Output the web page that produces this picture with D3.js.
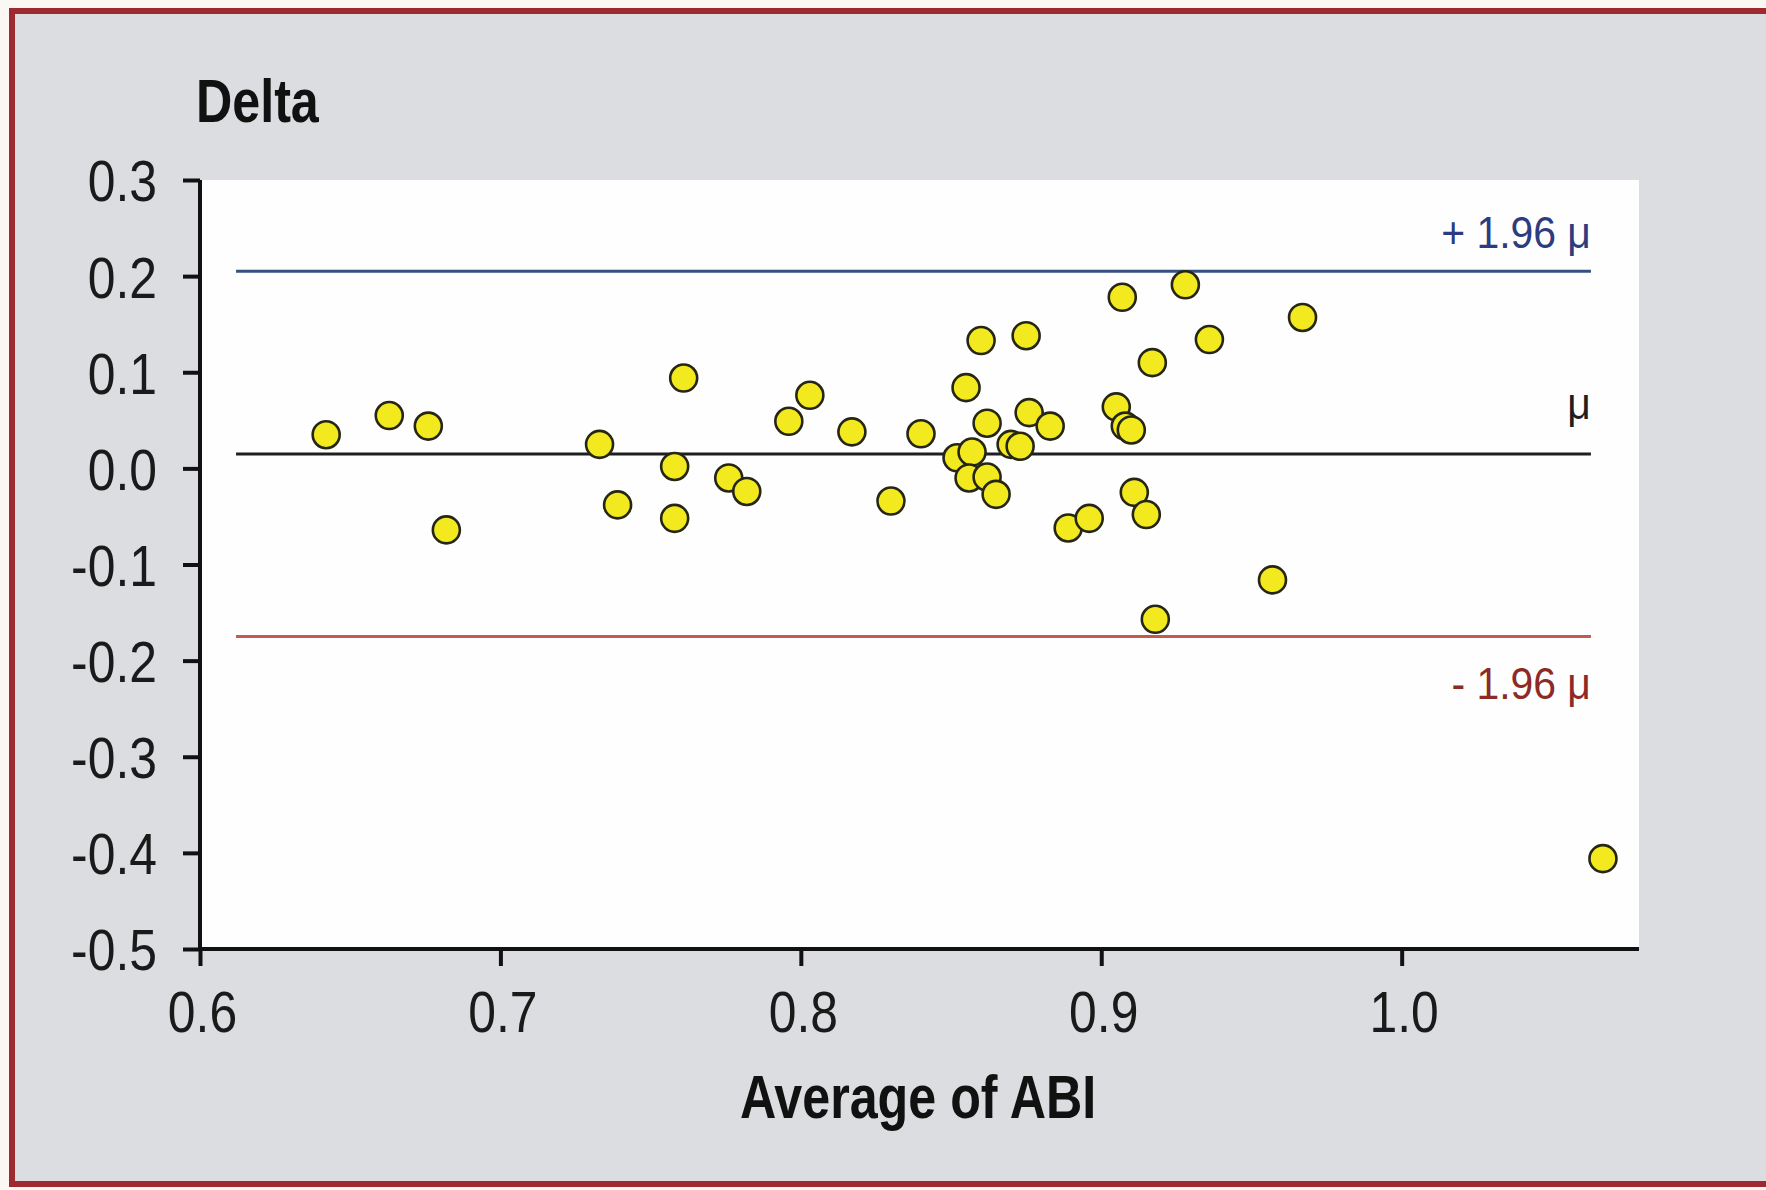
<!DOCTYPE html>
<html>
<head>
<meta charset="utf-8">
<script src="https://cdn.jsdelivr.net/npm/d3@7"></script>
<style>
  html, body { margin: 0; padding: 0; background: #fbf7f3; overflow: hidden; }
  svg { display: block; }
  text { font-family: "Liberation Sans", Arial, Helvetica, sans-serif; }
</style>
</head>
<body>
<svg id="chart" width="1766" height="1190"></svg>
<script>
// ---- Data ----
const abiAverage = [0.642, 0.663, 0.676, 0.682, 0.733, 0.739, 0.761, 0.758, 0.758, 0.776,
                    0.782, 0.796, 0.803, 0.817, 0.830, 0.840, 0.855, 0.860, 0.875, 0.907,
                    0.928, 0.936, 0.917, 0.967, 0.905, 0.908, 0.910, 0.862, 0.876, 0.883,
                    0.870, 0.873, 0.852, 0.857, 0.856, 0.862, 0.865, 0.889, 0.896, 0.911,
                    0.915, 0.957, 0.918, 1.067];
const abiDelta   = [0.035, 0.055, 0.044, -0.064, 0.025, -0.038, 0.094, 0.002, -0.052, -0.010,
                    -0.024, 0.049, 0.076, 0.038, -0.034, 0.036, 0.084, 0.133, 0.138, 0.178,
                    0.191, 0.134, 0.110, 0.157, 0.064, 0.044, 0.040, 0.047, 0.058, 0.044,
                    0.025, 0.023, 0.011, 0.017, -0.010, -0.009, -0.027, -0.062, -0.052, -0.025,
                    -0.048, -0.116, -0.157, -0.406];
const refLineNames  = ["upper", "mean", "lower"];
const refLineValues = [0.205, 0.015, -0.175];
const refLineLabels = ["+ 1.96 \u03bc", "\u03bc", "- 1.96 \u03bc"];
const refLineSpan   = [0.612, 1.063];
const xTicks = [0.6, 0.7, 0.8, 0.9, 1.0];
const yTicks = [0.3, 0.2, 0.1, 0.0, -0.1, -0.2, -0.3, -0.4, -0.5];
const xTitle = "Average of ABI";
const yTitle = "Delta";

// ---- Layout ----
const svg = d3.select("#chart");
const W = 1766, H = 1190;
const plot = { left: 200, right: 1639, top: 180, bottom: 949 };
const x = d3.scaleLinear().domain([0.6, 1.079]).range([plot.left, plot.right]);
const y = d3.scaleLinear().domain([-0.5, 0.3]).range([plot.bottom, plot.top]);

const lineColors  = { upper: "#34507f", mean: "#1f1f1f", lower: "#c25a50" };
const labelColors = { upper: "#2c3c7e", mean: "#1f1f1f", lower: "#8e2a26" };
const condensed = 0.81;
const tickCondensed = 0.86;
const fmt = d => d3.format(".1f")(d).replace("\u2212", "-");

// frame (left, top, bottom red rules; the right side runs off the page)
svg.append("rect").attr("x", 0).attr("y", 0).attr("width", W).attr("height", H).attr("fill", "#fbf7f3");
svg.append("rect").attr("x", 12).attr("y", 11).attr("width", W - 12).attr("height", 1173)
  .attr("fill", "#dcdde0");
const frameColor = "#9e2a30";
svg.append("line").attr("x1", 12).attr("x2", 12).attr("y1", 8).attr("y2", 1187)
  .attr("stroke", frameColor).attr("stroke-width", 6);
svg.append("line").attr("x1", 9).attr("x2", W).attr("y1", 11).attr("y2", 11)
  .attr("stroke", frameColor).attr("stroke-width", 6);
svg.append("line").attr("x1", 9).attr("x2", W).attr("y1", 1184).attr("y2", 1184)
  .attr("stroke", frameColor).attr("stroke-width", 6);

// white plotting area
svg.append("rect").attr("x", plot.left).attr("y", plot.top)
  .attr("width", plot.right - plot.left).attr("height", plot.bottom - plot.top)
  .attr("fill", "#fefefe");

// reference lines
const refs = refLineNames.map((n, i) => ({ name: n, value: refLineValues[i], label: refLineLabels[i] }));
svg.append("g").selectAll("line").data(refs).join("line")
  .attr("x1", x(refLineSpan[0])).attr("x2", x(refLineSpan[1]))
  .attr("y1", d => y(d.value)).attr("y2", d => y(d.value))
  .attr("stroke", d => lineColors[d.name]).attr("stroke-width", 3);

const labelOffset = { upper: -23, mean: -35, lower: 62 };
svg.append("g").selectAll("text").data(refs).join("text")
  .attr("transform", d => `translate(${x(refLineSpan[1])},${y(d.value) + labelOffset[d.name]}) scale(0.93,1)`)
  .attr("text-anchor", "end")
  .attr("font-size", 44)
  .attr("fill", d => labelColors[d.name])
  .text(d => d.label);

// axes
const yAxis = d3.axisLeft(y).tickValues(yTicks).tickSize(17).tickSizeOuter(0).tickFormat(fmt);
const xAxis = d3.axisBottom(x).tickValues(xTicks).tickSize(17).tickSizeOuter(0).tickFormat(fmt);

const gy = svg.append("g").attr("transform", `translate(${plot.left},0)`).call(yAxis);
const gx = svg.append("g").attr("transform", `translate(0,${plot.bottom})`).call(xAxis);

[gx, gy].forEach(g => {
  g.select(".domain").attr("stroke", "#111").attr("stroke-width", 4);
  g.selectAll(".tick line").attr("stroke", "#111").attr("stroke-width", 4);
  g.selectAll(".tick text").attr("font-size", 58).attr("fill", "#1a1a1a")
    .attr("font-family", "\"Liberation Sans\", Arial, sans-serif");
});
gy.select(".domain").attr("d", `M0,${plot.top}V${plot.bottom}`);
gx.select(".domain").attr("d", `M${plot.left},0H${plot.right}`);

gy.selectAll(".tick text")
  .attr("transform", `scale(${tickCondensed},1)`)
  .attr("x", -43 / tickCondensed).attr("dy", "0.36em");
gx.selectAll(".tick text")
  .attr("transform", `translate(2,0) scale(${tickCondensed},1)`)
  .attr("x", 0).attr("y", 83).attr("dy", 0);

// points
svg.append("g").selectAll("circle")
  .data(abiAverage.map((a, i) => ({ avg: a, delta: abiDelta[i] })))
  .join("circle")
  .attr("cx", d => x(d.avg)).attr("cy", d => y(d.delta))
  .attr("r", 13.5)
  .attr("fill", "#f3e91f")
  .attr("stroke", "#262615").attr("stroke-width", 2.6);

// titles
svg.append("text")
  .attr("transform", `translate(196,122) scale(${condensed},1)`)
  .attr("font-size", 62).attr("font-weight", "bold").attr("fill", "#111")
  .text(yTitle);
svg.append("text")
  .attr("transform", `translate(918,1118) scale(${condensed},1)`)
  .attr("text-anchor", "middle")
  .attr("font-size", 62).attr("font-weight", "bold").attr("fill", "#111")
  .text(xTitle);
</script>
</body>
</html>
